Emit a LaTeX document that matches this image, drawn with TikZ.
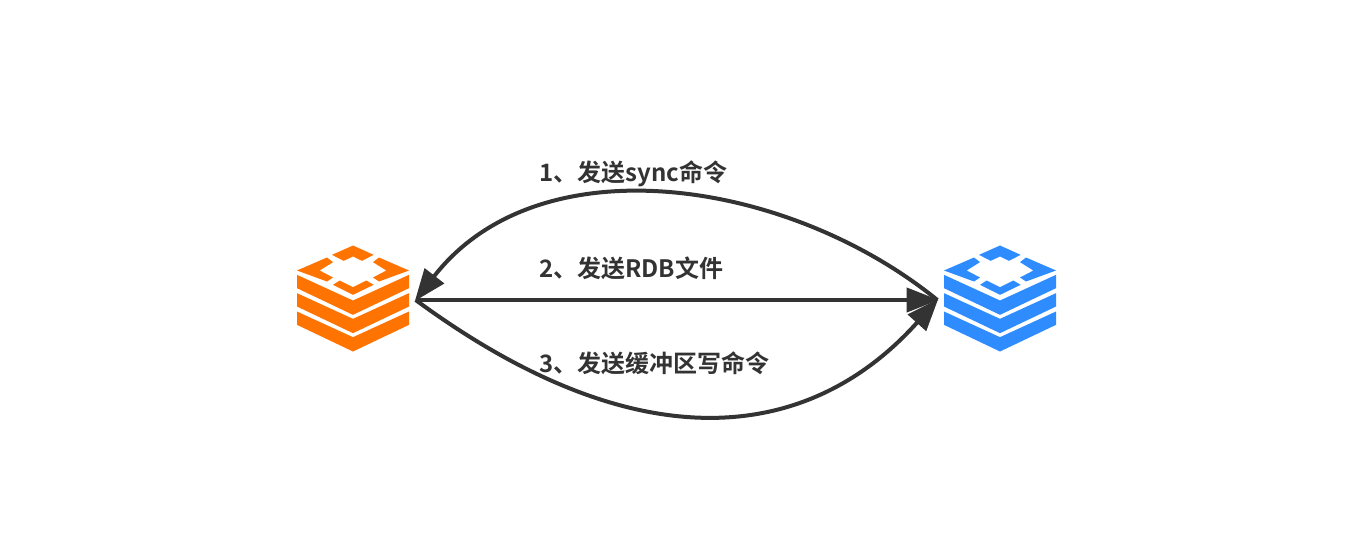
\documentclass[tikz,border=0pt]{standalone}
\usepackage{fontspec}
\setmainfont[BoldFont=Noto Sans CJK SC Bold]{Noto Sans CJK SC}
\usetikzlibrary{arrows.meta}
\definecolor{linegray}{HTML}{333333}
\definecolor{masterorange}{HTML}{FF7300}
\definecolor{slaveblue}{HTML}{2F8CFF}
\tikzset{
  server/.style={minimum width=84pt,minimum height=80pt,inner sep=0pt,outer sep=5pt},
  stepnote/.style={anchor=west,inner sep=0pt,text=linegray,font=\fontsize{18pt}{20pt}\bfseries},
  link/.style={linegray,line width=3pt,-{Triangle[length=24pt,width=18pt,quick]},shorten >=-1pt},
  pics/redisicon/.style={code={
    \fill[#1] (-63,-125) -- (0,-153) -- (62,-125) -- (27,-107) -- (0,-120) -- (-28,-107) -- cycle; % top piece
    \fill[#1] (-168,-78) -- (-78,-117) -- (-60,-103) -- (-100,-78) -- (-60,-57) -- (-78,-45) -- cycle;
    \fill[#1] (168,-78) -- (78,-117) -- (60,-103) -- (100,-78) -- (60,-57) -- (78,-45) -- cycle;
    \fill[#1] (-60,-35) -- (-40,-48) -- (0,-28) -- (40,-48) -- (62,-35) -- (0,-5) -- cycle;
    \foreach \layer in {0,55,110} % three stacked layers
      \fill[#1] (-168,-65+\layer) -- (0,12+\layer) -- (168,-65+\layer) -- (168,-25+\layer) -- (0,55+\layer) -- (-168,-25+\layer) -- cycle;
  }}
}
\begin{document}
\begin{tikzpicture}[x=0.75pt,y=-0.75pt]
  \useasboundingbox[fill=white] (0,0) rectangle (1352,535);
  \node[server] (master) at (353,300) {};
  \node[server] (slave) at (1000,300) {};
  \coordinate (mastericon) at (353,296.5);
  \coordinate (slaveicon) at (1000,296.5);
  \pic[x=0.25pt,y=-0.25pt] at (mastericon) {redisicon=masterorange};
  \pic[x=0.25pt,y=-0.25pt] at (slaveicon) {redisicon=slaveblue};
  \node[stepnote] (sync) at (539,174) {1、发送sync命令};
  \node[stepnote] (rdb) at (539,268) {2、发送RDB文件};
  \node[stepnote] (buffer) at (539,363) {3、发送缓冲区写命令};
  \draw[link] (slave.west) .. controls (790,180) and (540,140) .. (master.east);
  \draw[link] (master.east) -- (slave.west);
  \draw[link] (master.east) .. controls (640,465) and (810,442) .. (slave.west);
\end{tikzpicture}
\end{document}
